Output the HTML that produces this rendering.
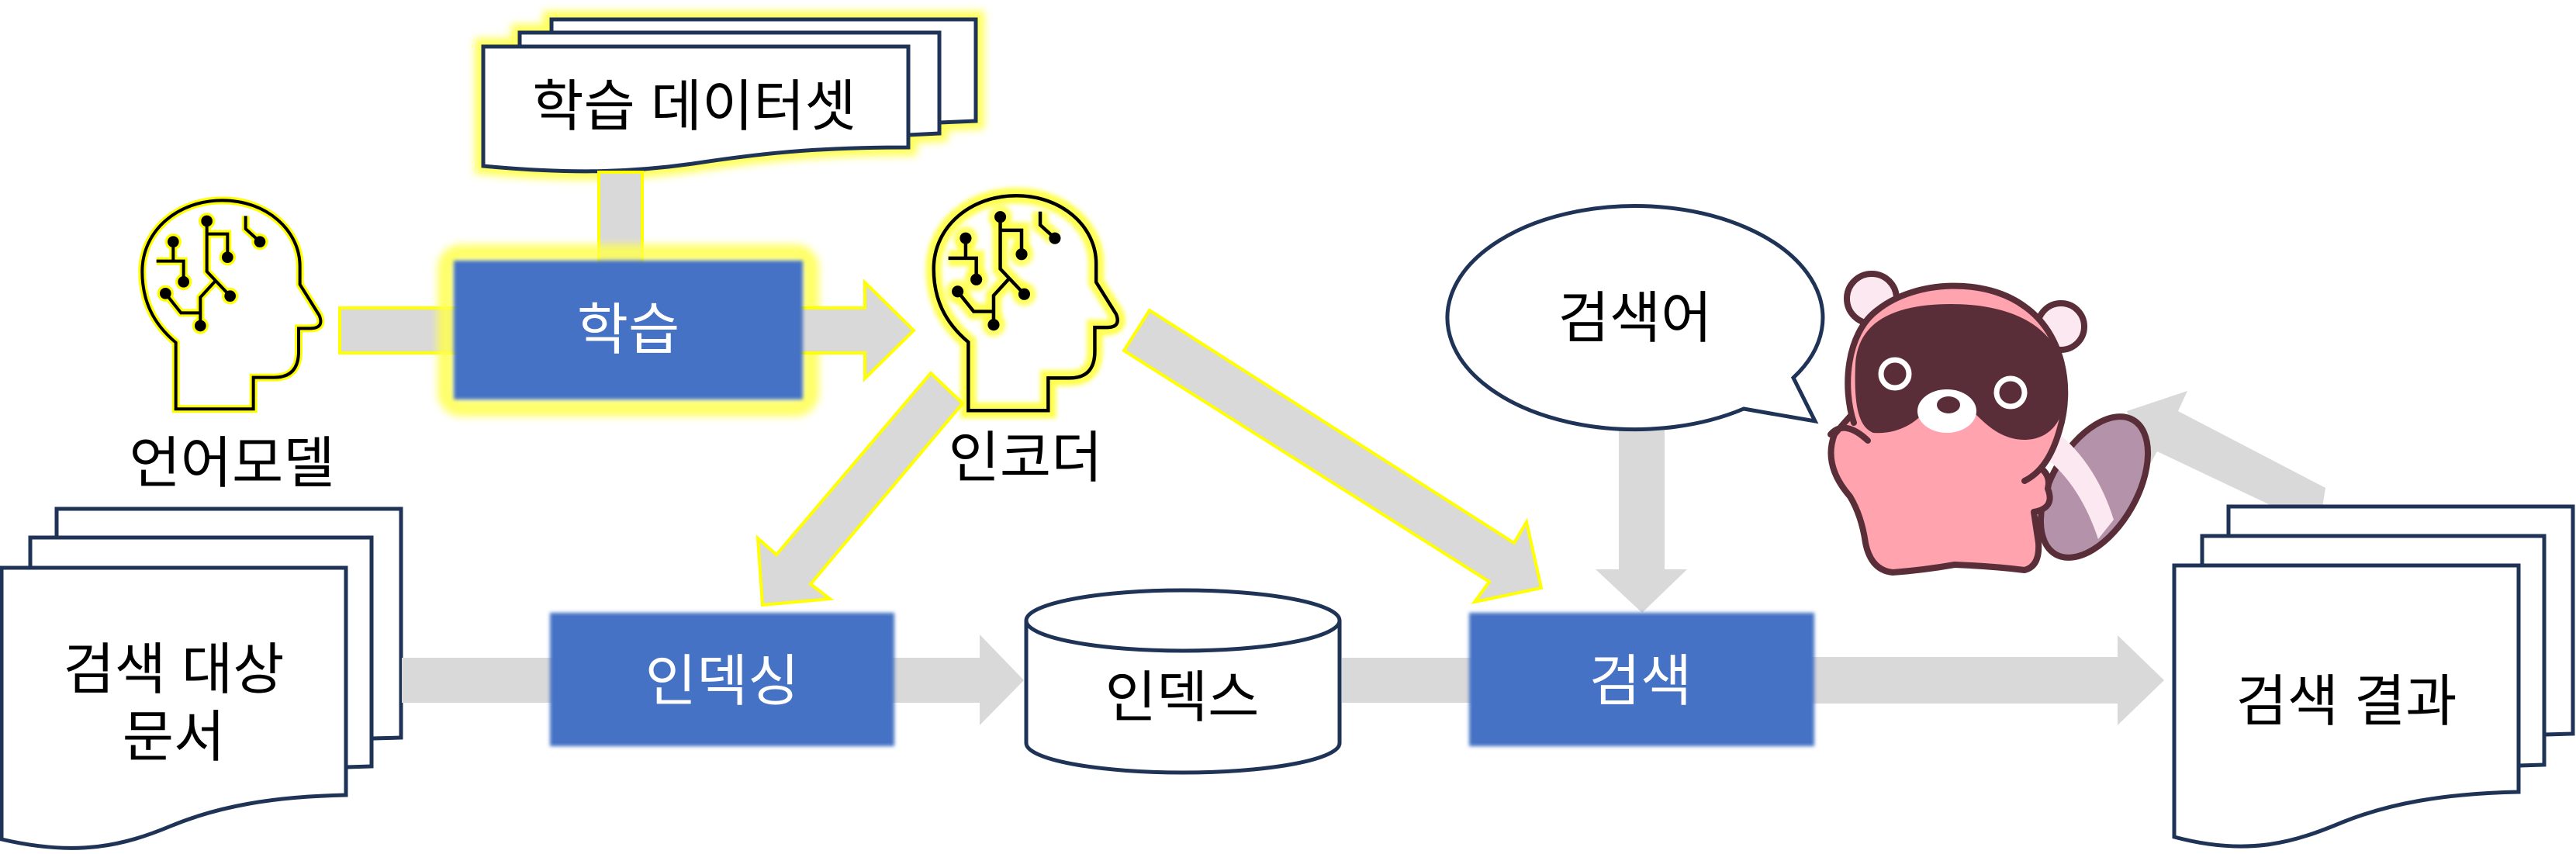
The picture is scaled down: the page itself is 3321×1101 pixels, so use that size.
<!DOCTYPE html>
<html><head><meta charset="utf-8">
<style>
html,body{margin:0;padding:0;background:#fff;}
svg{display:block;}
text{font-family:"Liberation Sans","Noto Sans CJK KR",sans-serif;}
</style></head>
<body>
<svg width="3321" height="1101" viewBox="0 0 3321 1101" xmlns="http://www.w3.org/2000/svg">
<defs>
  <filter id="glow" x="-30%" y="-30%" width="160%" height="160%">
    <feGaussianBlur stdDeviation="8"/>
  </filter>
  <filter id="glow2" x="-30%" y="-30%" width="160%" height="160%">
    <feGaussianBlur stdDeviation="5"/>
  </filter>
  <filter id="soft" x="-5%" y="-5%" width="110%" height="110%">
    <feGaussianBlur stdDeviation="2.5"/>
  </filter>
  <path id="headp" d="M170,862 L170,605 C80,530 40,440 40,330 C40,170 180,55 350,55 C520,55 650,170 650,310 L650,380 L725,500 Q745,550 690,550 L645,550 L645,640 Q645,740 550,740 L470,740 L470,862 Z"/>
  <g id="brain">
    <use href="#headp" fill="none"/>
    <path d="M290,135 L290,330 L380,425 M290,185 L370,185 L370,275 M320,370 L265,430 L265,540 M265,490 L190,490 L130,415 M160,215 L160,285 M95,290 L200,290 L200,370 M440,115 L440,165 L495,215" fill="none"/>
  </g>
  <g id="dots">
    <circle cx="290" cy="135" r="22"/><circle cx="380" cy="425" r="22"/><circle cx="370" cy="275" r="22"/>
    <circle cx="265" cy="540" r="22"/><circle cx="130" cy="415" r="22"/><circle cx="160" cy="215" r="22"/>
    <circle cx="200" cy="370" r="22"/><circle cx="495" cy="215" r="22"/>
  </g>
  <g id="ds">
    <path d="M711,25 H1258 V156 L1211,158 V42 H711 Z"/>
    <path d="M670,42 H1211 V172 L1171,174 V60 H670 Z"/>
    <path d="M623,60 H1171 V190 C1050,190 980,198 900,210 C820,222 740,225 623,214 Z"/>
  </g>
</defs>

<g>
  <use href="#ds" fill="none" stroke="#ffff30" stroke-width="22" filter="url(#glow2)" opacity="0.8"/>
  <use href="#ds" stroke="#1F3357" stroke-width="5" fill="#fff"/>
  <text x="895" y="162" font-size="72" text-anchor="middle" fill="#000">학습 데이터셋</text>
</g>

<rect x="772" y="222" width="56" height="120" fill="#D9D9D9" stroke="#ffff00" stroke-width="4"/>

<g transform="translate(170,240) scale(0.3333)">
  <use href="#brain" stroke="#ffff00" stroke-width="30"/>
  <g fill="#ffff00"><circle cx="290" cy="135" r="32"/><circle cx="380" cy="425" r="32"/><circle cx="370" cy="275" r="32"/><circle cx="265" cy="540" r="32"/><circle cx="130" cy="415" r="32"/><circle cx="160" cy="215" r="32"/><circle cx="200" cy="370" r="32"/><circle cx="495" cy="215" r="32"/></g>
  <use href="#brain" stroke="#000" stroke-width="12"/>
  <use href="#dots" fill="#000"/>
</g>
<text x="299" y="622" font-size="72" text-anchor="middle" fill="#000">언어모델</text>

<rect x="438" y="397" width="160" height="58" fill="#D9D9D9" stroke="#ffff00" stroke-width="4"/>

<rect x="575" y="326" width="470" height="200" rx="20" fill="none" stroke="#ffff50" stroke-width="22" opacity="0.85" filter="url(#glow2)"/>
<polygon points="1030,397 1115,397 1115,364 1178,426 1115,488 1115,455 1030,455" fill="#D9D9D9" stroke="#ffff00" stroke-width="4"/>
<rect x="585" y="336" width="450" height="179" fill="#4472C4" filter="url(#soft)"/>
<text x="810" y="450" font-size="72" text-anchor="middle" fill="#fff">학습</text>

<g transform="translate(1180,230) scale(0.3333)">
  <g transform="translate(30,10) scale(1.03)">
    <use href="#brain" stroke="#ffff40" stroke-width="60" filter="url(#glow)" opacity="0.9"/>
    <g fill="#ffff40" filter="url(#glow)" opacity="0.8"><circle cx="290" cy="135" r="45"/><circle cx="380" cy="425" r="45"/><circle cx="370" cy="275" r="45"/><circle cx="265" cy="540" r="45"/><circle cx="130" cy="415" r="45"/><circle cx="160" cy="215" r="45"/><circle cx="200" cy="370" r="45"/></g>
    <use href="#brain" stroke="#000" stroke-width="13"/>
    <use href="#dots" fill="#000"/>
  </g>
</g>
<text x="1322" y="615" font-size="72" text-anchor="middle" fill="#000">인코더</text>

<polygon points="1200,481 1241,520 1045,753 1070,772 983,780 977,694 1001,715" fill="#D9D9D9" stroke="#ffff00" stroke-width="4"/>
<polygon points="1482,400 1952,700 1968,673 1987,758 1901,776 1920,750 1449,452" fill="#D9D9D9" stroke="#ffff00" stroke-width="4"/>

<g stroke="#1F3357" stroke-width="5" fill="#fff">
  <path d="M73,656 H517 V951 L479,952 V693 H73 Z"/>
  <path d="M39,693 H479 V988 L446,989 V732 H39 Z"/>
  <path d="M2,732 H446 V1025 C350,1027 280,1040 220,1065 C160,1090 100,1105 2,1082 Z"/>
</g>
<text x="224" y="888" font-size="72" text-anchor="middle" fill="#000">검색 대상</text>
<text x="224" y="975" font-size="72" text-anchor="middle" fill="#000">문서</text>

<rect x="518" y="848" width="195" height="58" fill="#D9D9D9"/>
<polygon points="1150,848 1263,848 1263,818 1320,877 1263,935 1263,906 1150,906" fill="#D9D9D9"/>
<rect x="709" y="790" width="444" height="172" fill="#4472C4" filter="url(#soft)"/>
<text x="931" y="903" font-size="72" text-anchor="middle" fill="#fff">인덱싱</text>

<g stroke="#1F3357" stroke-width="5" fill="#fff">
  <path d="M1323,800 V958 A202,38 0 0 0 1727,958 V800"/>
  <ellipse cx="1525" cy="800" rx="202" ry="39"/>
</g>
<text x="1524" y="924" font-size="72" text-anchor="middle" fill="#000">인덱스</text>

<rect x="1730" y="848" width="170" height="58" fill="#D9D9D9"/>

<polygon points="2087,553 2146,553 2146,734 2175,734 2117,790 2057,734 2087,734" fill="#D9D9D9"/>
<g stroke="#1F3357" stroke-width="5" fill="#fff">
  <path d="M2312,487 L2340,543 L2248,527 A242,144 0 1 1 2312,487 Z"/>
</g>
<text x="2108" y="435" font-size="72" text-anchor="middle" fill="#000">검색어</text>

<polygon points="2330,847 2730,847 2730,819 2790,877 2730,935 2730,907 2330,907" fill="#D9D9D9"/>
<rect x="1894" y="790" width="445" height="172" fill="#4472C4" filter="url(#soft)"/>
<text x="2115" y="903" font-size="72" text-anchor="middle" fill="#fff">검색</text>

<polygon points="2998,629 2808,530 2820,504 2742,530 2767,607 2781,582 2933,654 2990,680" fill="#D9D9D9"/>

<g stroke="#1F3357" stroke-width="5" fill="#fff">
  <path d="M2873,653 H3317 V946 L3280,947 V691 H2873 Z"/>
  <path d="M2839,691 H3280 V986 L3247,987 V729 H2839 Z"/>
  <path d="M2803,729 H3247 V1021 C3150,1023 3080,1036 3020,1060 C2960,1085 2900,1105 2803,1079 Z"/>
</g>
<text x="3025" y="929" font-size="72" text-anchor="middle" fill="#000">검색 결과</text>

<g stroke="#5A2E38" stroke-width="8" stroke-linejoin="round" stroke-linecap="round">
  <ellipse cx="2700" cy="628" rx="55" ry="100" transform="rotate(30 2700 628)" fill="#B493AA"/>
  <path d="M2640,548 Q2700,590 2725,670 L2705,695 Q2680,620 2630,585 Z" fill="#FCE8F0" stroke="none"/>
  <circle cx="2413" cy="385" r="32" fill="#FCE8F0"/>
  <circle cx="2657" cy="421" r="30" fill="#FCE8F0"/>
  <path d="M2365,560 Q2350,600 2385,640 Q2400,665 2405,700 Q2412,735 2440,738 Q2480,735 2520,728 Q2570,730 2610,735 Q2630,730 2628,700 Q2625,680 2622,660 Q2650,655 2640,630 Q2645,610 2625,600 Q2650,540 2600,480 L2420,500 Q2390,530 2365,560 Z" fill="#FFA3AE"/>
  <path d="M2390,545 C2375,500 2380,430 2420,400 C2470,360 2560,358 2610,395 C2660,430 2672,500 2655,555 C2645,590 2630,610 2610,620 L2420,610 C2400,590 2393,570 2390,545 Z" fill="#FFA3AE" stroke="none"/>
  <path d="M2390,545 C2375,500 2380,430 2420,400 C2470,360 2560,358 2610,395 C2660,430 2672,500 2655,555 C2645,590 2630,610 2610,620" fill="none"/>
  <path d="M2392,470 C2395,410 2450,392 2515,392 C2600,392 2655,425 2662,485 C2668,545 2640,567 2610,567 C2580,567 2560,547 2545,532 L2480,532 C2465,550 2440,560 2415,558 C2395,550 2390,520 2392,470 Z" fill="#5A2E38" stroke="none"/>
  <ellipse cx="2510" cy="530" rx="38" ry="28" fill="#fff" stroke="none"/>
  <ellipse cx="2512" cy="522" rx="15" ry="11" fill="#5A2E38" stroke="none"/>
  <circle cx="2443" cy="482" r="18" fill="#5A2E38" stroke="#fff" stroke-width="7"/>
  <circle cx="2592" cy="506" r="18" fill="#5A2E38" stroke="#fff" stroke-width="7"/>
  <path d="M2360,560 Q2378,540 2408,568" fill="none"/>
</g>
</svg>
</body></html>
